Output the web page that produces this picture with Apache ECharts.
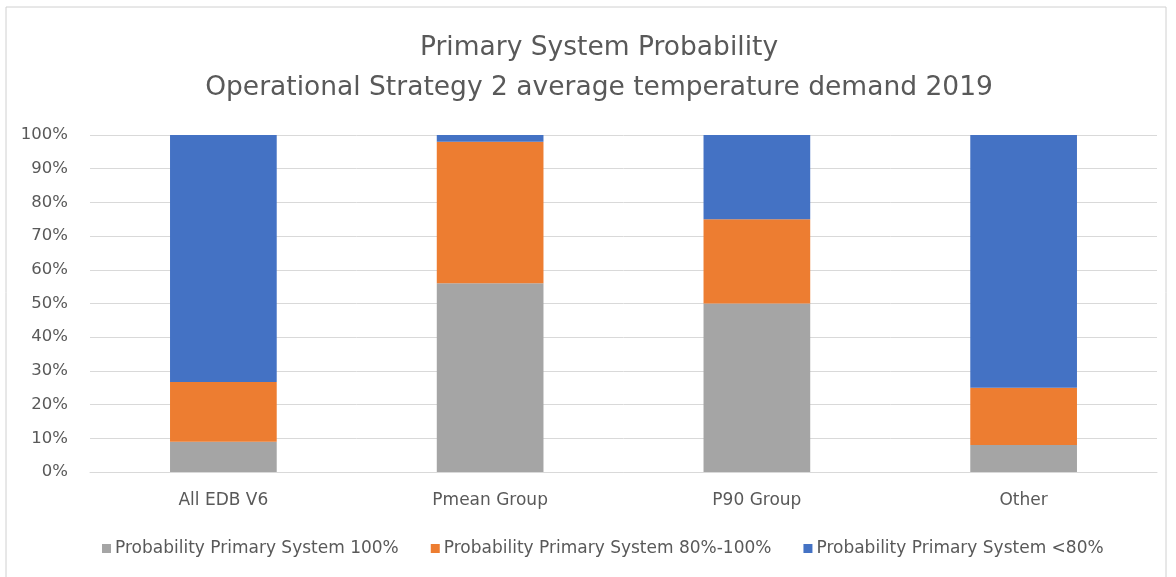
<!DOCTYPE html>
<html><head><meta charset="utf-8">
<script src="https://cdn.jsdelivr.net/npm/echarts@6/dist/echarts.min.js"></script>
<style>html,body{margin:0;padding:0;background:#fff}#c{width:1176px;height:577px}</style>
</head><body><div id="c"></div>
<script>
const categories = ['All EDB V6', 'Pmean Group', 'P90 Group', 'Other'];
const seriesNames = ['Probability Primary System 100%', 'Probability Primary System 80%-100%', 'Probability Primary System <80%'];
const p100 = [9, 56, 50, 8];
const p80to100 = [17.7, 42, 25, 17];
const pBelow80 = [73.3, 2, 25, 75];
const colors = ['#A5A5A5', '#ED7D31', '#4472C4'];
const font = 'DejaVu Sans';
const chart = echarts.init(document.getElementById('c'), null, {renderer: 'canvas'});
chart.setOption({
  animation: false,
  graphic: [{type: 'rect', shape: {x: 6, y: 7, width: 1160, height: 575}, style: {fill: 'none', stroke: '#D0D0D0', lineWidth: 1}}],
  title: {
    text: 'Primary System Probability\nOperational Strategy 2 average temperature demand 2019',
    left: 594, top: 23, textAlign: 'center',
    textStyle: {fontFamily: font, fontSize: 26.5, fontWeight: 'normal', color: '#595959', lineHeight: 40}
  },
  legend: {
    bottom: 15, left: 97, itemWidth: 9, itemHeight: 9, itemGap: 32,
    icon: 'rect',
    textStyle: {fontFamily: font, fontSize: 17, color: '#595959', padding: [0, 0, 0, -1]},
    data: seriesNames
  },
  grid: {left: 90, right: 19, top: 135, bottom: 105},
  xAxis: {
    type: 'category', data: categories,
    axisLine: {lineStyle: {color: '#D9D9D9'}}, axisTick: {show: false},
    axisLabel: {fontFamily: font, fontSize: 17, color: '#595959', margin: 20}
  },
  yAxis: {
    type: 'value', min: 0, max: 100, interval: 10,
    axisLabel: {formatter: '{value}%', fontFamily: font, fontSize: 16.5, color: '#595959', margin: 22},
    splitLine: {lineStyle: {color: '#D9D9D9'}}, axisLine: {show: false}, axisTick: {show: false}
  },
  series: [p100, p80to100, pBelow80].map((d, i) => ({
    name: seriesNames[i], type: 'bar', stack: 'total', data: d, barWidth: '40%',
    itemStyle: {color: colors[i]}
  }))
});
</script></body></html>
